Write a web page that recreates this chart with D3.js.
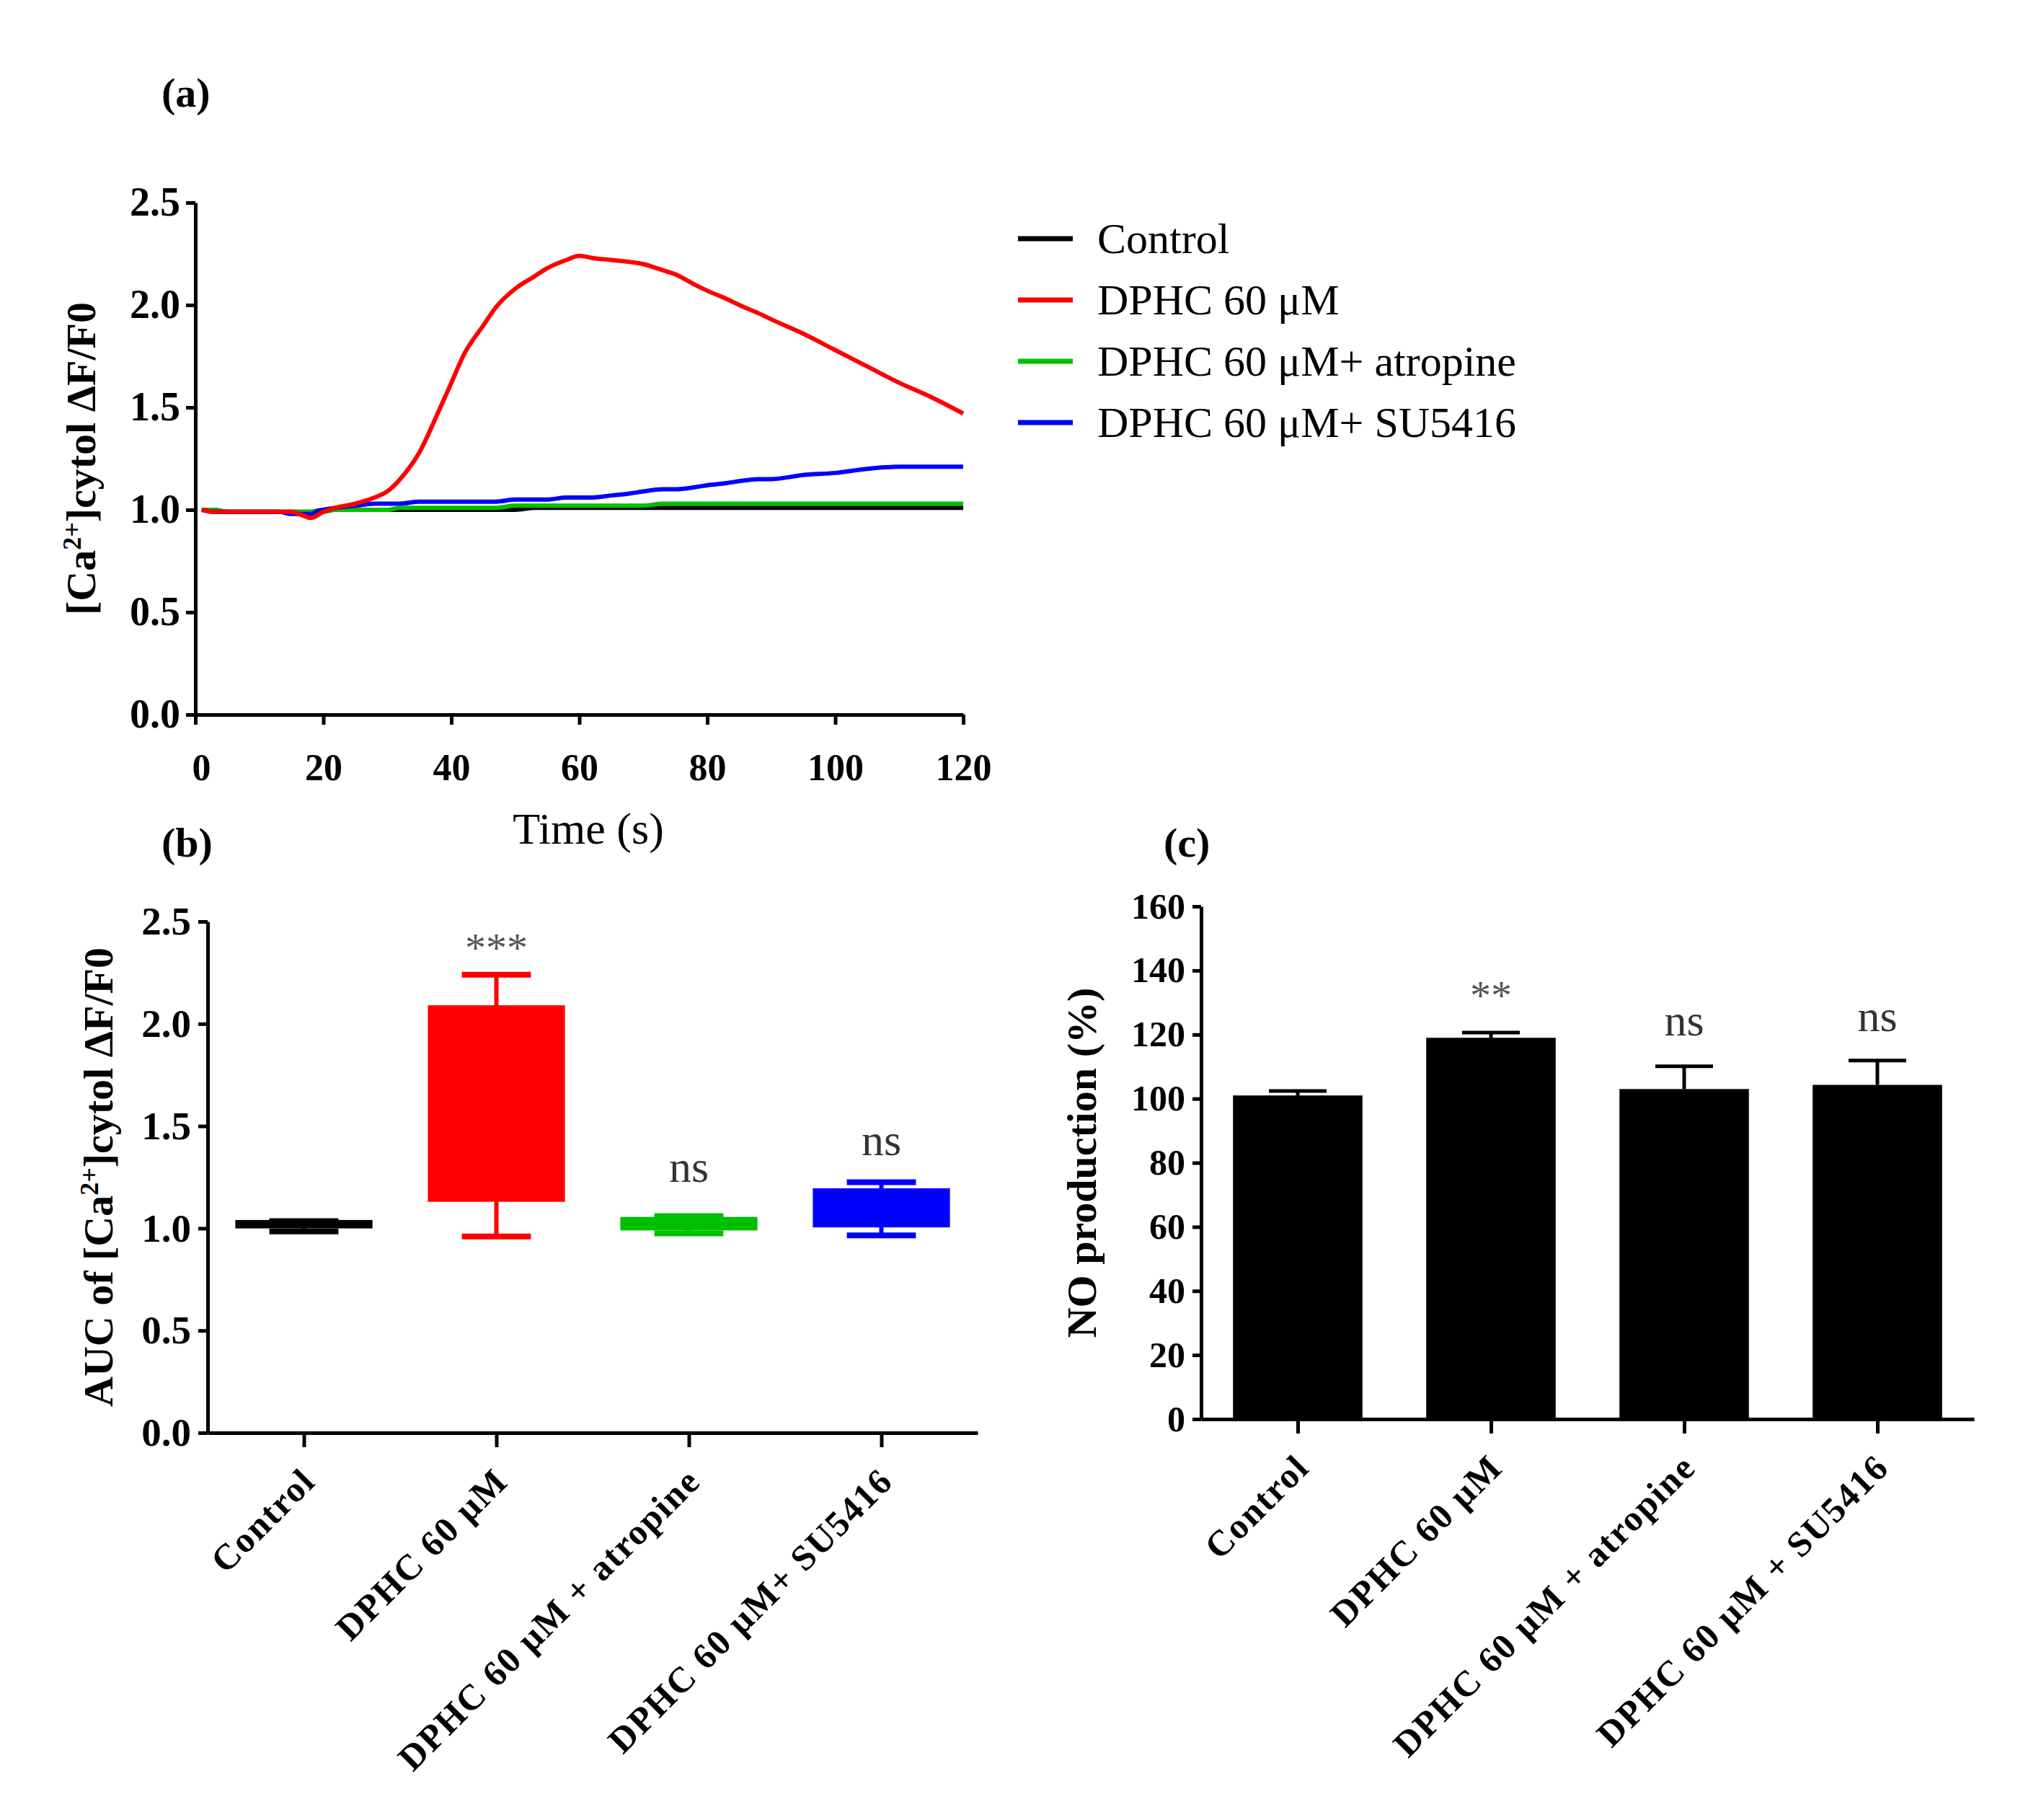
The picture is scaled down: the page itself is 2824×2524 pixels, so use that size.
<!DOCTYPE html>
<html>
<head>
<meta charset="utf-8">
<script src="https://cdn.jsdelivr.net/npm/d3@7"></script>
<style>
  body { margin: 0; background: #fff; }
</style>
</head>
<body>
<div id="fig"></div>
<script>
// ---- panel (a): calcium traces over time ----
const timeS = [1,3,5,8,10,13,15,17,18,20,22,25,28,30,32,35,38,40,42,45,47,50,53,55,58,60,62,65,68,70,73,75,78,80,83,85,88,90,95,100,105,110,115,120];
const controlTrace = [1.00,1.00,0.99,0.99,0.99,0.99,0.99,0.99,0.99,
  1.00,1.00,1.00,1.00,1.00,1.00,1.00,1.00,1.00,1.00,1.00,1.00,1.00,
  1.01,1.01,1.01,1.01,1.01,1.01,1.01,1.01,1.01,1.01,1.01,1.01,1.01,1.01,1.01,1.01,1.01,1.01,1.01,1.01,1.01,1.01];
const dphcTrace = [1.00,0.99,0.99,0.99,0.99,0.99,0.99,0.97,0.96,
  0.99,1.01,1.03,1.06,1.09,1.15,1.28,1.48,1.62,1.76,1.90,1.99,2.08,
  2.14,2.18,2.22,2.24,2.23,2.22,2.21,2.20,2.17,2.15,2.10,2.07,2.03,2.00,1.96,1.93,1.86,1.78,1.70,1.62,1.55,1.47];
const atropineTrace = [1.00,1.00,0.99,0.99,0.99,0.99,0.99,0.99,0.99,
  0.99,1.00,1.00,1.00,1.00,1.01,1.01,1.01,1.01,1.01,1.01,1.01,1.02,
  1.02,1.02,1.02,1.02,1.02,1.02,1.02,1.02,1.03,1.03,1.03,1.03,1.03,1.03,1.03,1.03,1.03,1.03,1.03,1.03,1.03,1.03];
const su5416Trace = [1.00,0.99,0.99,0.99,0.99,0.99,0.98,0.98,0.98,
  1.00,1.01,1.02,1.03,1.03,1.03,1.04,1.04,1.04,1.04,1.04,1.04,1.05,
  1.05,1.05,1.06,1.06,1.06,1.07,1.08,1.09,1.10,1.10,1.11,1.12,1.13,1.14,1.15,1.15,1.17,1.18,1.20,1.21,1.21,1.21];
const legendLabels = ["Control", "DPHC 60 \u03bcM", "DPHC 60 \u03bcM+ atropine", "DPHC 60 \u03bcM+ SU5416"];
const seriesColors = ["#000000", "#ff0000", "#00c000", "#0000ff"];
const xTicksA = [0, 20, 40, 60, 80, 100, 120];
const yTicksA = [0, 0.5, 1.0, 1.5, 2.0, 2.5];

// ---- panel (b): AUC box plots ----
const groupsB = ["Control", "DPHC 60 \u03bcM", "DPHC 60 \u03bcM + atropine", "DPHC 60 \u03bcM+ SU5416"];
const boxMin = [0.985, 0.96, 0.975, 0.965];
const boxQ1  = [1.01, 1.14, 1.00, 1.015];
const boxMed = [1.02, 1.62, 1.03, 1.10];
const boxQ3  = [1.03, 2.08, 1.045, 1.185];
const boxMax = [1.035, 2.24, 1.06, 1.225];
const sigB = ["", "***", "ns", "ns"];
const sigLevelB = [null, 2.41, 1.28, 1.41];
const yTicksB = [0, 0.5, 1.0, 1.5, 2.0, 2.5];

// ---- panel (c): NO production ----
const groupsC = ["Control", "DPHC 60 \u03bcM", "DPHC 60 \u03bcM + atropine", "DPHC 60 \u03bcM + SU5416"];
const noMean = [101, 119, 103, 104.3];
const noSem = [1.4, 1.6, 7.1, 7.6];
const sigC = ["", "**", "ns", "ns"];
const sigLevelC = [null, 134.5, 123, 124.5];
const yTicksC = [0, 20, 40, 60, 80, 100, 120, 140, 160];

//////////////////////////////////////////////////////////////////
const W = 2824, H = 2524;
const serif = '"Liberation Serif", "Times New Roman", serif';

const svg = d3.select("#fig").append("svg")
  .attr("width", W)
  .attr("height", H)
  .attr("font-family", serif);

svg.append("rect").attr("width", W).attr("height", H).attr("fill", "#fff");

// common axis styling
function styleAxis(g, size) {
  g.attr("font-family", serif)
    .attr("font-size", size)
    .attr("font-weight", "bold");
  g.select(".domain").attr("stroke", "#000").attr("stroke-width", 5);
  g.selectAll(".tick line").attr("stroke", "#000").attr("stroke-width", 5);
  g.selectAll(".tick text").attr("fill", "#000");
}

function panelLabel(txt, x, y) {
  svg.append("text")
    .attr("x", x).attr("y", y)
    .attr("font-size", 58)
    .attr("font-weight", "bold")
    .text(txt);
}

// y title with superscript "2+" (rotated)
function yTitle(parts, cx, cy) {
  const t = svg.append("text")
    .attr("transform", `translate(${cx},${cy}) rotate(-90)`)
    .attr("text-anchor", "middle")
    .attr("font-size", 58)
    .attr("font-weight", "bold");
  parts.forEach(p => {
    const s = t.append("tspan").text(p.t);
    if (p.sup) s.attr("font-size", 36).attr("baseline-shift", "super");
  });
}

// ================= panel (a) =================
const xA = d3.scaleLinear().domain([0, 120]).range([271, 1336]);
const yA = d3.scaleLinear().domain([0, 2.5]).range([991, 281]);

const axA_x = svg.append("g")
  .attr("transform", `translate(0,${yA(0)})`)
  .call(d3.axisBottom(xA).tickValues(xTicksA).tickSize(14).tickPadding(40).tickSizeOuter(0));
styleAxis(axA_x, 52);
axA_x.selectAll(".tick text").filter(d => d === 0).attr("dx", 8);

const axA_y = svg.append("g")
  .attr("transform", `translate(${xA(0)},0)`)
  .call(d3.axisLeft(yA).tickValues(yTicksA).tickFormat(d3.format(".1f")).tickSize(13).tickPadding(8).tickSizeOuter(0));
styleAxis(axA_y, 56);

const traces = [controlTrace, dphcTrace, atropineTrace, su5416Trace];
const drawOrder = [0, 2, 3, 1];
const line = d3.line()
  .x((d, i) => xA(timeS[i]))
  .y(d => yA(d))
  .curve(d3.curveMonotoneX);

drawOrder.forEach(k => {
  svg.append("path")
    .datum(traces[k])
    .attr("fill", "none")
    .attr("stroke", seriesColors[k])
    .attr("stroke-width", 6)
    .attr("stroke-linejoin", "round")
    .attr("d", line);
});

svg.append("text")
  .attr("x", 816).attr("y", 1170)
  .attr("text-anchor", "middle")
  .attr("font-size", 62)
  .text("Time (s)");

yTitle([{t: "[Ca"}, {t: "2+", sup: true}, {t: "]cytol \u0394F/F0"}], 132, (yA(0) + yA(2.5)) / 2);

// legend
const legend = svg.append("g");
const legY = d3.scalePoint().domain(d3.range(legendLabels.length)).range([331, 586]);
legendLabels.forEach((lab, i) => {
  legend.append("line")
    .attr("x1", 1412).attr("x2", 1488)
    .attr("y1", legY(i)).attr("y2", legY(i))
    .attr("stroke", seriesColors[i])
    .attr("stroke-width", 7);
  legend.append("text")
    .attr("x", 1522).attr("y", legY(i) + 20)
    .attr("font-size", 60)
    .text(lab);
});

panelLabel("(a)", 224, 148);

// rotated category tick labels
function rotateLabels(g, size) {
  g.selectAll(".tick text")
    .attr("x", 18).attr("y", 70).attr("dy", null)
    .attr("text-anchor", "end")
    .attr("font-size", size)
    .attr("letter-spacing", 2)
    .attr("transform", "rotate(-45, 18, 70)");
}

// ================= panel (b) =================
const xB = d3.scaleBand().domain(d3.range(groupsB.length)).range([288, 1356]).paddingInner(0.31).paddingOuter(0.155);
const yB = d3.scaleLinear().domain([0, 2.5]).range([1987, 1278]);

const axB_x = svg.append("g")
  .attr("transform", `translate(0,${yB(0)})`)
  .call(d3.axisBottom(d3.scalePoint().domain(d3.range(groupsB.length)).range([288, 1356]).padding(0.5))
    .tickFormat(i => groupsB[i]).tickSize(20).tickSizeOuter(0));
styleAxis(axB_x, 50);
rotateLabels(axB_x, 50);

const axB_y = svg.append("g")
  .attr("transform", `translate(288,0)`)
  .call(d3.axisLeft(yB).tickValues(yTicksB).tickFormat(d3.format(".1f")).tickSize(13).tickPadding(10).tickSizeOuter(0));
styleAxis(axB_y, 55);

groupsB.forEach((g, i) => {
  const x0 = xB(i), bw = xB.bandwidth(), cx = x0 + bw / 2, col = seriesColors[i];
  const capW = bw * 0.52;
  const grp = svg.append("g");
  // whiskers
  grp.append("line").attr("x1", cx).attr("x2", cx).attr("y1", yB(boxMax[i])).attr("y2", yB(boxQ3[i]))
    .attr("stroke", col).attr("stroke-width", 6);
  grp.append("line").attr("x1", cx).attr("x2", cx).attr("y1", yB(boxQ1[i])).attr("y2", yB(boxMin[i]))
    .attr("stroke", col).attr("stroke-width", 6);
  [boxMax[i], boxMin[i]].forEach(v => {
    grp.append("line").attr("x1", cx - capW / 2).attr("x2", cx + capW / 2).attr("y1", yB(v)).attr("y2", yB(v))
      .attr("stroke", col).attr("stroke-width", 8);
  });
  grp.append("rect")
    .attr("x", x0).attr("width", bw)
    .attr("y", yB(boxQ3[i])).attr("height", yB(boxQ1[i]) - yB(boxQ3[i]))
    .attr("fill", col).attr("stroke", col).attr("stroke-width", 6);
  grp.append("line").attr("x1", x0).attr("x2", x0 + bw).attr("y1", yB(boxMed[i])).attr("y2", yB(boxMed[i]))
    .attr("stroke", col).attr("stroke-width", 5);
  if (sigB[i]) {
    const star = sigB[i].startsWith("*");
    svg.append("text")
      .attr("x", cx).attr("y", yB(sigLevelB[i]) + (star ? 30 : 15))
      .attr("text-anchor", "middle")
      .attr("font-size", star ? 58 : 62)
      .attr("fill", star ? "#555" : "#333")
      .text(sigB[i]);
  }
});

yTitle([{t: "AUC of [Ca"}, {t: "2+", sup: true}, {t: "]cytol \u0394F/F0"}], 156, (yB(0) + yB(2.5)) / 2);
panelLabel("(b)", 224, 1188);

// ================= panel (c) =================
const xC = d3.scaleBand().domain(d3.range(groupsC.length)).range([1666, 2738]).paddingInner(0.33).paddingOuter(0.165);
const yC = d3.scaleLinear().domain([0, 160]).range([1968, 1257]);

// error bars (upper half only)
groupsC.forEach((g, i) => {
  const cx = xC(i) + xC.bandwidth() / 2, top = noMean[i] + noSem[i];
  svg.append("line").attr("x1", cx).attr("x2", cx).attr("y1", yC(noMean[i])).attr("y2", yC(top))
    .attr("stroke", "#000").attr("stroke-width", 5);
  svg.append("line").attr("x1", cx - 40).attr("x2", cx + 40).attr("y1", yC(top)).attr("y2", yC(top))
    .attr("stroke", "#000").attr("stroke-width", 5);
});

svg.append("g").selectAll("rect")
  .data(noMean)
  .enter()
  .append("rect")
  .attr("x", (d, i) => xC(i))
  .attr("width", xC.bandwidth())
  .attr("y", d => yC(d))
  .attr("height", d => yC(0) - yC(d))
  .attr("fill", "#000");

const axC_x = svg.append("g")
  .attr("transform", `translate(0,${yC(0)})`)
  .call(d3.axisBottom(d3.scalePoint().domain(d3.range(groupsC.length)).range([1666, 2738]).padding(0.5))
    .tickFormat(i => groupsC[i]).tickSize(20).tickSizeOuter(0));
styleAxis(axC_x, 50);
rotateLabels(axC_x, 50);

const axC_y = svg.append("g")
  .attr("transform", `translate(1666,0)`)
  .call(d3.axisLeft(yC).tickValues(yTicksC).tickSize(12).tickPadding(10).tickSizeOuter(0));
styleAxis(axC_y, 50);

groupsC.forEach((g, i) => {
  if (!sigC[i]) return;
  const star = sigC[i].startsWith("*");
  svg.append("text")
    .attr("x", xC(i) + xC.bandwidth() / 2)
    .attr("y", yC(sigLevelC[i]) + (star ? 30 : 15))
    .attr("text-anchor", "middle")
    .attr("font-size", star ? 58 : 62)
    .attr("fill", star ? "#555" : "#333")
    .text(sigC[i]);
});

yTitle([{t: "NO production (%)"}], 1520, (yC(0) + yC(160)) / 2);
panelLabel("(c)", 1614, 1188);
</script>
</body>
</html>
